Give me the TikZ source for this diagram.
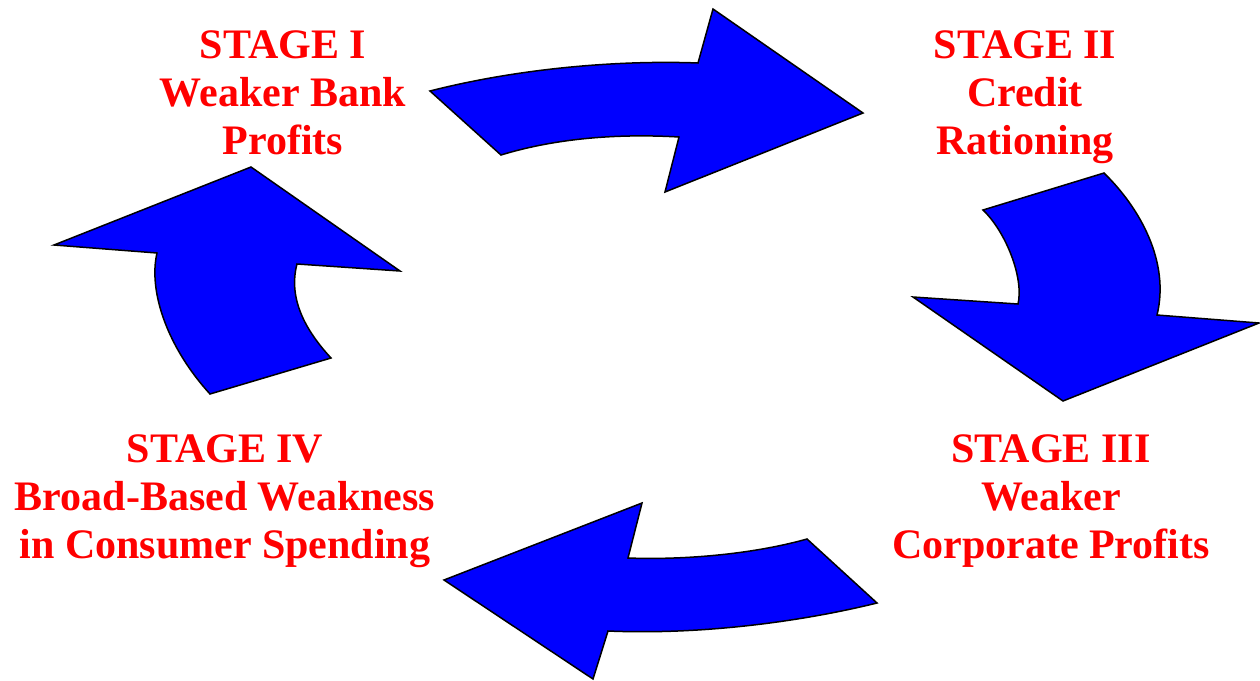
\documentclass[tikz,border=0pt]{standalone}
\usepackage{fontspec}
\setmainfont{Liberation Serif}
\usepackage{xcolor}

\begin{document}
\begin{tikzpicture}[x=1pt,y=-1pt,
        stage/.style={text=red, font=\fontsize{42}{48}\selectfont\bfseries, align=center},
        bigarrow/.style={fill=blue, draw=black, line width=1.5pt, line join=miter}]
            \useasboundingbox (0,0) rectangle (1260,680);

            \def\toparrow{(430,91) .. controls (520,68) and (620,60) .. (698,63) -- (713,9) -- (863,113) -- (665,192) -- (679,137) .. controls (610,133) and (550,140) .. (501,155) -- cycle}
            \def\rightarrow{(983,210) -- (1104,173) .. controls (1140,208) and (1170,262) .. (1157,315) -- (1259,323) -- (1063,401) -- (913,297) -- (1018,304) .. controls (1024,278) and (1006,232) .. (983,210) -- cycle}
            \def\bottomarrow{(877,603) -- (807,539) .. controls (750,555) and (680,560) .. (628,558) -- (642,503) -- (444,580) -- (593,679) -- (608,631) .. controls (700,635) and (800,622) .. (877,603) -- cycle}
            \def\leftarrow{(210,394) -- (331,358) .. controls (305,330) and (288,298) .. (297,264) -- (400,271) -- (251,167) -- (54,245) -- (157,253) .. controls (148,292) and (168,348) .. (210,394) -- cycle}

            \draw[bigarrow] \toparrow;
            \draw[bigarrow] \rightarrow;
            \draw[bigarrow] \bottomarrow;
            \draw[bigarrow] \leftarrow;

            \node[stage] (stageI) at (283,97) {\strut STAGE I\\Weaker Bank\\Profits\strut};
            \node[stage] (stageII) at (1025,97) {\strut STAGE II\\Credit\\Rationing\strut};
            \node[stage] (stageIII) at (1051,501) {\strut STAGE III\\Weaker\\Corporate Profits\strut};
            \node[stage] (stageIV) at (225,501) {\strut STAGE IV\\Broad-Based Weakness\\in Consumer Spending\strut};
        \end{tikzpicture}
\end{document}
